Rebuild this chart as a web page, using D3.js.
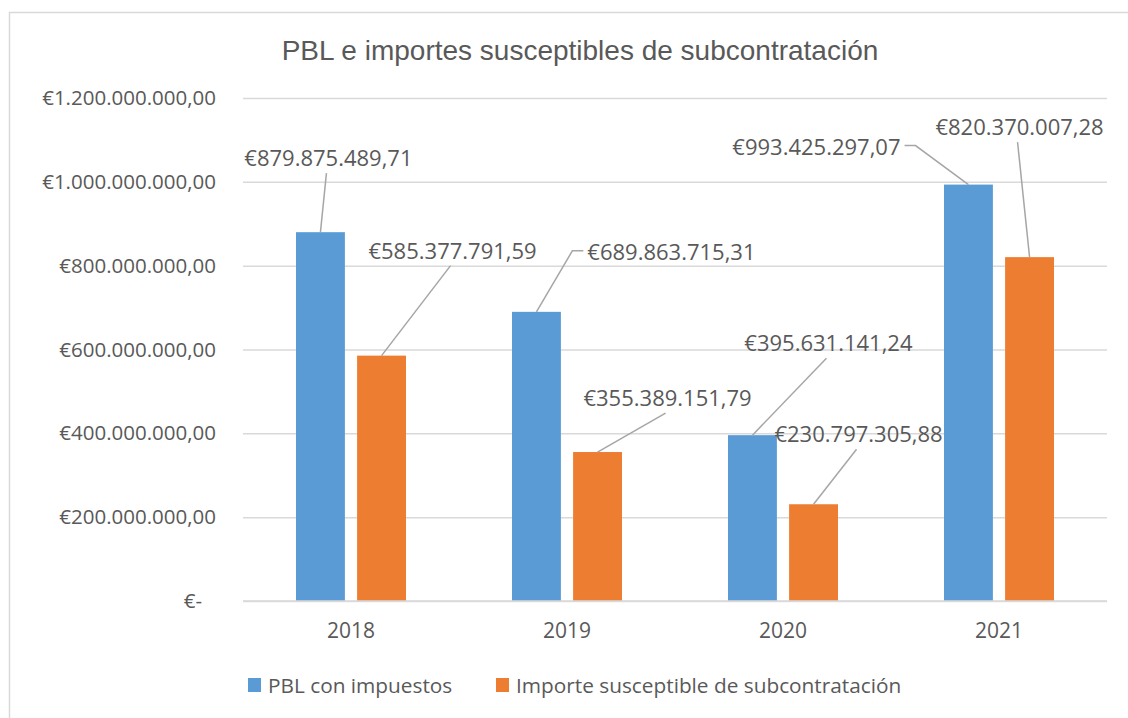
<!DOCTYPE html>
<html>
<head>
<meta charset="utf-8">
<script src="https://cdn.jsdelivr.net/npm/d3@7"></script>
<style>
  body { margin: 0; background: #fff; }
  svg { display: block; }
</style>
</head>
<body>
<div id="chart"></div>
<script>
(function(){

  var width = 1128;
  var height = 718;

  var years = ['2018', '2019', '2020', '2021'];
  var seriesNames = ['PBL con impuestos', 'Importe susceptible de subcontratación'];
  var pblValues = [879875489.71, 689863715.31, 395631141.24, 993425297.07];
  var importeValues = [585377791.59, 355389151.79, 230797305.88, 820370007.28];
  var yTicks = [0, 200000000, 400000000, 600000000, 800000000, 1000000000, 1200000000];
  var colors = ['#5B9BD5', '#ED7D31'];

  // label offsets from the bar top (layout only)
  var labelOffsets = [
    [[8, -75], [71, -106]],
    [[135, -61], [70, -55]],
    [[76, -93], [45, -71]],
    [[-152, -39], [-10, -131]]
  ];

  var margin = { left: 243, right: 21, top: 98, bottom: 117 };
  var textColor = '#595959';

  var svg = d3.select('#chart')
              .append('svg')
              .attr('width', width)
              .attr('height', height);

  // chart border
  svg.append('rect')
     .attr('x', 9.5).attr('y', 12.5)
     .attr('width', width + 10).attr('height', height + 10)
     .attr('fill', 'none')
     .attr('stroke', '#d9d9d9')
     .attr('stroke-width', 1.5);

  var x0 = d3.scaleBand()
             .domain(years)
             .range([margin.left, width - margin.right]);

  var x1 = d3.scaleBand()
             .domain([0, 1])
             .range([-55, 55])
             .paddingInner(0.2);

  var y = d3.scaleLinear()
            .domain([0, 1200000000])
            .range([height - margin.bottom, margin.top]);

  var fmtNum = d3.formatLocale({ decimal: ',', thousands: '.', grouping: [3], currency: ['€', ''] });
  var fmt2 = fmtNum.format(',.2f');
  function euro(v) { return v === 0 ? '€-' : '€' + fmt2(v); }

  // title
  svg.append('text')
     .attr('x', 580).attr('y', 50)
     .attr('text-anchor', 'middle')
     .attr('dominant-baseline', 'central')
     .attr('fill', textColor)
     .attr('font-family', 'Liberation Sans, Arial, sans-serif')
     .attr('font-size', '28px')
     .text('PBL e importes susceptibles de subcontratación');

  // y axis with gridlines
  var yAxis = d3.axisLeft(y)
                .tickValues(yTicks)
                .tickSize(-(width - margin.left - margin.right))
                .tickPadding(27)
                .tickFormat(euro);

  var gy = svg.append('g')
              .attr('transform', 'translate(' + margin.left + ',0)')
              .call(yAxis);
  gy.select('.domain').remove();
  gy.selectAll('.tick line')
    .attr('stroke', '#d9d9d9')
    .attr('stroke-width', 1.5);
  gy.selectAll('.tick text')
    .attr('fill', textColor)
    .attr('font-family', 'Open Sans, sans-serif')
    .attr('font-size', '20.5px');
  gy.selectAll('.tick text')
    .filter(function(d) { return d === 0; })
    .attr('dx', -14);

  // x axis labels
  var xAxis = d3.axisBottom(x0).tickSize(0).tickPadding(22);
  var gx = svg.append('g')
              .attr('transform', 'translate(0,' + (height - margin.bottom) + ')')
              .call(xAxis);
  gx.select('.domain').remove();
  gx.selectAll('.tick text')
    .attr('fill', textColor)
    .attr('font-family', 'Open Sans, sans-serif')
    .attr('font-size', '21px');

  var rows = years.map(function(yr, i) {
    return { year: yr, i: i, values: [pblValues[i], importeValues[i]] };
  });

  var groups = svg.selectAll('g.year')
                  .data(rows)
                  .enter()
                  .append('g')
                  .attr('class', 'year')
                  .attr('transform', function(d) {
                    return 'translate(' + (x0(d.year) + x0.bandwidth() / 2) + ',0)';
                  });

  groups.selectAll('rect')
        .data(function(d) { return d.values.map(function(v, s) { return { v: v, s: s, i: d.i }; }); })
        .enter()
        .append('rect')
        .attr('x', function(d) { return x1(d.s); })
        .attr('y', function(d) { return y(d.v); })
        .attr('width', x1.bandwidth())
        .attr('height', function(d) { return y(0) - y(d.v); })
        .attr('fill', function(d) { return colors[d.s]; });

  // baseline
  svg.append('line')
     .attr('x1', margin.left).attr('x2', width - margin.right)
     .attr('y1', y(0)).attr('y2', y(0))
     .attr('stroke', '#d9d9d9')
     .attr('stroke-width', 1.5);

  // data labels with leader lines
  var labelData = [];
  rows.forEach(function(r) {
    r.values.forEach(function(v, s) {
      var bx = x0(r.year) + x0.bandwidth() / 2 + x1(s) + x1.bandwidth() / 2;
      var by = y(v);
      var off = labelOffsets[r.i][s];
      labelData.push({ v: v, bx: bx, by: by, lx: bx + off[0], ly: by + off[1] });
    });
  });

  var labelLayer = svg.append('g');
  var lineLayer = svg.insert('g', 'g.year');

  labelData.forEach(function(d) {
    var t = labelLayer.append('text')
                      .attr('x', d.lx).attr('y', d.ly)
                      .attr('text-anchor', 'middle')
                      .attr('dominant-baseline', 'central')
                      .attr('fill', textColor)
                      .attr('font-family', 'Open Sans, sans-serif')
                      .attr('font-size', '22px')
                      .text(euro(d.v));
    var w = t.node().getComputedTextLength();
    var pts;
    if (Math.abs(d.lx - d.bx) > w / 2 + 5) {
      var side = d.lx > d.bx ? -1 : 1;
      var sx = d.lx + side * (w / 2 + 4);
      pts = [[sx, d.ly], [sx + side * 11, d.ly], [d.bx, d.by]];
    } else {
      pts = [[d.lx - 2, d.ly + 16], [d.bx, d.by]];
    }
    lineLayer.append('path')
             .attr('d', d3.line()(pts))
             .attr('fill', 'none')
             .attr('stroke', '#a6a6a6')
             .attr('stroke-width', 1.5);
  });
  lineLayer.raise();
  labelLayer.raise();

  // legend
  var legendX = [248, 496];
  var legend = svg.selectAll('g.legend')
                  .data(seriesNames)
                  .enter()
                  .append('g')
                  .attr('class', 'legend')
                  .attr('transform', function(d, i) { return 'translate(' + legendX[i] + ',685)'; });

  legend.append('rect')
        .attr('x', 0).attr('y', -7)
        .attr('width', 13).attr('height', 14)
        .attr('fill', function(d, i) { return colors[i]; });

  legend.append('text')
        .attr('x', 20).attr('y', 0)
        .attr('dominant-baseline', 'central')
        .attr('fill', textColor)
        .attr('font-family', 'Open Sans, sans-serif')
        .attr('font-size', '20.8px')
        .text(function(d) { return d; });

})();
</script>
</body>
</html>
